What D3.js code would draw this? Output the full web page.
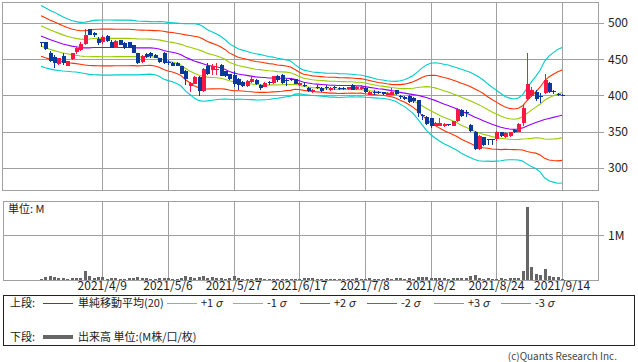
<!DOCTYPE html>
<html><head><meta charset="utf-8">
<script src="https://cdn.jsdelivr.net/npm/d3@7"></script>
<style>body{margin:0;background:#fff}svg{display:block}</style>
</head><body>
<svg id="c" width="638" height="362"></svg>
<script>
const dates = [
"2021/3/22","2021/3/23","2021/3/24","2021/3/25","2021/3/26","2021/3/29","2021/3/30","2021/3/31",
"2021/4/1","2021/4/2","2021/4/5","2021/4/6","2021/4/7","2021/4/8","2021/4/9","2021/4/12","2021/4/13","2021/4/14","2021/4/15","2021/4/16","2021/4/19","2021/4/20","2021/4/21","2021/4/22","2021/4/23","2021/4/26","2021/4/27","2021/4/28","2021/4/30",
"2021/5/6","2021/5/7","2021/5/10","2021/5/11","2021/5/12","2021/5/13","2021/5/14","2021/5/17","2021/5/18","2021/5/19","2021/5/20","2021/5/21","2021/5/24","2021/5/25","2021/5/26","2021/5/27","2021/5/28","2021/5/31",
"2021/6/1","2021/6/2","2021/6/3","2021/6/4","2021/6/7","2021/6/8","2021/6/9","2021/6/10","2021/6/11","2021/6/14","2021/6/15","2021/6/16","2021/6/17","2021/6/18","2021/6/21","2021/6/22","2021/6/23","2021/6/24","2021/6/25","2021/6/28","2021/6/29","2021/6/30",
"2021/7/1","2021/7/2","2021/7/5","2021/7/6","2021/7/7","2021/7/8","2021/7/9","2021/7/12","2021/7/13","2021/7/14","2021/7/15","2021/7/16","2021/7/19","2021/7/20","2021/7/21","2021/7/26","2021/7/27","2021/7/28","2021/7/29","2021/7/30",
"2021/8/2","2021/8/3","2021/8/4","2021/8/5","2021/8/6","2021/8/10","2021/8/11","2021/8/12","2021/8/13","2021/8/16","2021/8/17","2021/8/18","2021/8/19","2021/8/20","2021/8/23","2021/8/24","2021/8/25","2021/8/26","2021/8/27","2021/8/30","2021/8/31",
"2021/9/1","2021/9/2","2021/9/3","2021/9/6","2021/9/7","2021/9/8","2021/9/9","2021/9/10","2021/9/13","2021/9/14"];

const open = [473,473,459,453,443,454,441,450,460,462,471,491,486,478,473,482,474,466,476,472,473,469,458,446,457,459,456,451,459,446,
445,445,440,434,413,416,425,406,440,435,436,442,433,429,428,423,419,413,418,421,414,412,419,417,426,428,421,423,422,414,
414,410,404,411,410.5,412,407,412,410.5,410.5,409,414,409,409,410.5,400.5,405,404.5,404,400.5,400.5,407,399.5,398,399,396,393,373,370,368,
358,358,358,360,358,364,380,377,359,350,326,342,339,339,340,349.5,342,344,352,350,362,395,399,405,399,403,417,406,402,401];
const high = [474,474,461,455,452,458,448,459,467,473,491,492,488,480,483,484,476,476,477,473,474,470,459,455,459,460,457,452,460,449,
446,446,441,435,418,426,426,438,444,443,445,443,434,430,433,424,420,421,426,422,415,418,420,427,428,429,423,424,423,419,
419,411,409,414,411,414,411,413,412,411,412,415,413,414,411,406,407,406,405,404.5,409.5,408,400.5,399,400,397,394,374,372,369,
363,369,362,361,365,382,381,380,361,351,345,343,340,340,351,350,349,350,353,362,386,458,412,408,403,429,418,407,403,402];
const low = [467,463,446,438,442,442,440,449,457,461,470,483,480,469,471,474,465,465,469,464,465,458,443,445,451,452,451,445,443,442,
440,440,429,414,404,415,399,405,428,428,428,426,425,421,412,408,412,412,417,414,408,411,414,416,419,416,413,420,415,413,
412,405,403,409,405,407,406,408,408,408,408,407,408,408,403,400,400,402,401,400,400,401,395.5,393.5,390,390,370,366,359,355,
357,357,356,357,357,363,370,370,350,325,324,330,331,331,337,343,341,343,348,349,357,393,397,392,390,402,403,402,399,399.5];
const close = [472.5,464,448,444,451,445,447,458,465,471,483,484,483,472,481,475,466,475,470,465,466,459,444,454,453,454,452,446,444,444,
441,441,430,422,417,425,406,437,429,440,437,427,426,422,416,414,413,420,422,416,410,417,417.5,426,421,417,420,421,416,417.5,
413,406,408,410.5,406,410,410.5,409.5,409,409,411,408,412,412,404,405,403,403.5,402,403.5,405,402.5,397,395,391,392,376,371,360.5,357,
362,362,361,358.5,364,381,371.5,376,351,326,344,331,338,338,350,344,348,349.5,349,361,383,416,407,395,398,421,404,404.5,401,400];
const volume = [0.03,0.07,0.10,0.06,0.045,0.04,0.02,0.035,0.05,0.055,0.19,0.08,0.05,0.06,0.075,0.025,0.035,0.035,0.02,0.02,
0.035,0.035,0.075,0.05,0.04,0.02,0.02,0.035,0.035,0.035,0.02,0.025,0.045,0.085,0.06,0.05,0.06,0.10,0.05,0.06,
0.045,0.045,0.025,0.045,0.08,0.035,0.02,0.02,0.02,0.035,0.035,0.02,0.025,0.02,0.02,0.02,0.02,0.02,0.02,0.02,
0.035,0.035,0.035,0.02,0.02,0.02,0.02,0.02,0.02,0.02,0.02,0.02,0.035,0.02,0.02,0.035,0.02,0.02,0.02,0.035,
0.02,0.035,0.035,0.02,0.035,0.02,0.075,0.06,0.06,0.045,0.045,0.045,0.045,0.02,0.05,0.05,0.035,0.045,0.10,0.12,
0.05,0.02,0.035,0.02,0.02,0.035,0.02,0.035,0.035,0.035,0.21,1.63,0.29,0.14,0.11,0.25,0.08,0.06,0.06,0.03];
const sma = [482,479.5,477,475,473,471,469.5,468,467,466,465.5,465.5,466,466,466,466,466,466,466,466,
466,466,465.5,465.5,465.5,465.5,465,464,462,460.5,459.5,458,456,452.5,450,447.5,445.5,443.5,441.5,440.5,
439.5,438,436,433,431,429.5,428.5,427.5,426.5,425.5,425,424.5,424,424,423.5,423.5,423.5,423,422,420,
418,417,416,415.5,415,414.5,414,414,413.5,413.5,413.5,413.5,413,413,412,411,410,409,408.5,407.5,
406.5,405.5,404,403,402,401,400,398.5,397,395,393,390.5,388,386,383.5,381,378,375.5,373,370,
367.5,365,362.5,360,358,356,354.5,353.5,353,353.5,355,357.5,360,362.5,364.5,366.5,368,369.5,371,372.5];
const sigma = [14,13.8,13.5,13.3,12.9,12.5,12.1,11.8,11.6,11.6,11.8,12.2,12.5,12.6,12.7,12.7,12.7,12.6,12.6,12.6,
12.6,12.5,12.4,12.3,12.2,12.1,12.2,12.6,13.2,13.4,13.6,13.9,14.4,15.5,16.3,17.1,17.5,17.2,16.4,15.8,
15.2,14.5,13.7,12.8,12.3,11.6,11.3,11.1,10.8,10.6,10.5,10.2,9.9,9.6,9.2,8.9,8.5,8.1,6.8,6.0,
5.6,5.5,5.4,5.4,5.4,5.4,5.5,5.5,5.5,5.4,5.3,5.2,5.1,5.0,4.9,4.7,4.5,4.3,4.2,4.2,
4.3,4.6,5.4,6.2,7.4,8.8,10.8,13.0,15.0,16.4,17.3,17.9,18.3,18.6,18.8,19.0,19.3,19.5,19.6,19.6,
19.3,18.7,17.8,17.1,16.3,15.5,14.6,14.2,14.0,14.3,15.3,17.5,19.5,21.2,23.5,26.8,28.7,29.8,30.8,31.2];
const priceTicks = [300,350,400,450,500];
const volumeTicks = [1];
const volumeTickLabels = ["1M"];
const dateTicks = ["2021/4/9","2021/5/6","2021/5/27","2021/6/17","2021/7/8","2021/8/2","2021/8/24","2021/9/14"];
const bands = [
  {k:3, color:"#00cccc"},{k:-3, color:"#00cccc"},
  {k:2, color:"#ff3300"},{k:-2, color:"#ff3300"},
  {k:1, color:"#99cc00"},{k:-1, color:"#99cc00"},
  {k:0, color:"#9900ff"}];
const legendItems = [
  {label:"単純移動平均(20)", sig:"", color:"#9900ff"},
  {label:"+1", sig:"σ", color:"#99cc00"},{label:"-1", sig:"σ", color:"#99cc00"},
  {label:"+2", sig:"σ", color:"#ff3300"},{label:"-2", sig:"σ", color:"#ff3300"},
  {label:"+3", sig:"σ", color:"#00cccc"},{label:"-3", sig:"σ", color:"#00cccc"}];

const FONT = "'Noto Sans CJK JP','Noto Sans',sans-serif";
const GRID = "#a0a0a0";
const UP = "#ff1744", DOWN = "#0a3a99";
const svg = d3.select("#c");
const L = 2, R = 598, T = 2, B = 190;
const VT = 201, VB = 280, VL = 3;
const n = dates.length;
const x = d3.scaleLinear().domain([-8.9, 127.2]).range([L, R]);
const y = d3.scaleLinear().domain([269.2, 528.9]).range([B, T]);
const yv = d3.scaleLinear().domain([0, 1.756]).range([VB, VT]);
const tickIdx = dateTicks.map(d => dates.indexOf(d));

// price grid + axis
const gP = svg.append("g").attr("shape-rendering","crispEdges");
gP.selectAll("line.h").data(priceTicks).join("line")
  .attr("x1", L).attr("x2", 604).attr("y1", d=>Math.round(y(d))+0.5).attr("y2", d=>Math.round(y(d))+0.5)
  .attr("stroke", GRID);
gP.selectAll("line.v").data(tickIdx).join("line")
  .attr("x1", d=>Math.round(x(d))+0.5).attr("x2", d=>Math.round(x(d))+0.5).attr("y1", T).attr("y2", B)
  .attr("stroke", GRID);
svg.append("g").selectAll("text").data(priceTicks).join("text")
  .attr("x", 608).attr("y", d=>y(d)+4.5).text(d=>d)
  .attr("font-family", FONT).attr("font-size", 12).attr("fill","#222");

// bands
const line = k => d3.line().x((d,i)=>x(i)).y((d,i)=>y(sma[i] + k*sigma[i]));
svg.append("g").selectAll("path").data(bands).join("path")
  .attr("d", b => line(b.k)(sma)).attr("fill","none").attr("stroke", b=>b.color).attr("stroke-width",1.1);

// candles
const gC = svg.append("g").attr("shape-rendering","crispEdges");
const cand = d3.range(n);
gC.selectAll("rect.w").data(cand).join("rect")
  .attr("x", i=>Math.round(x(i))).attr("width",1)
  .attr("y", i=>Math.round(y(high[i]))).attr("height", i=>Math.max(1, Math.round(y(low[i]))-Math.round(y(high[i]))))
  .attr("fill", i=> close[i]>open[i]?UP:DOWN);
gC.selectAll("rect.b").data(cand).join("rect")
  .attr("x", i=>Math.round(x(i))-1.5).attr("width",4)
  .attr("y", i=>Math.round(y(Math.max(open[i],close[i]))))
  .attr("height", i=>Math.max(1, Math.round(y(Math.min(open[i],close[i]))) - Math.round(y(Math.max(open[i],close[i])))))
  .attr("fill", i=> close[i]>open[i]?UP:DOWN);

// top frame
svg.append("rect").attr("x",L+0.5).attr("y",T+0.5).attr("width",R-L).attr("height",B-T)
  .attr("fill","none").attr("stroke",GRID).attr("shape-rendering","crispEdges");

// volume panel
const gV = svg.append("g").attr("shape-rendering","crispEdges");
gV.selectAll("line.h").data(volumeTicks).join("line")
  .attr("x1", VL).attr("x2", 604).attr("y1", d=>Math.round(yv(d))+0.5).attr("y2", d=>Math.round(yv(d))+0.5).attr("stroke",GRID);
gV.selectAll("line.v").data(tickIdx).join("line")
  .attr("x1", d=>Math.round(x(d))+0.5).attr("x2", d=>Math.round(x(d))+0.5).attr("y1", VT).attr("y2", VB).attr("stroke",GRID);
gV.selectAll("rect.vol").data(cand).join("rect")
  .attr("x", i=>Math.round(x(i))-1).attr("width",3)
  .attr("y", i=>Math.round(yv(volume[i]))).attr("height", i=>VB-Math.round(yv(volume[i])))
  .attr("fill","#666");
gV.append("rect").attr("x",VL+0.5).attr("y",VT+0.5).attr("width",R-VL).attr("height",VB-VT)
  .attr("fill","none").attr("stroke",GRID);
svg.append("g").selectAll("text").data(volumeTicks).join("text")
  .attr("x", 608).attr("y", d=>yv(d)+4.5).text((d,i)=>volumeTickLabels[i])
  .attr("font-family", FONT).attr("font-size", 12).attr("fill","#222");
svg.append("text").attr("x",8).attr("y",213).text("単位: M")
  .attr("font-family", FONT).attr("font-size", 11).attr("fill","#222");

// date labels
svg.append("g").selectAll("text").data(tickIdx).join("text")
  .attr("x", d=>x(d)).attr("y", 290).attr("text-anchor","middle").text((d,i)=>dateTicks[i])
  .attr("font-family", FONT).attr("font-size", 12).attr("fill","#222");

// legend
svg.append("rect").attr("x",3.5).attr("y",295.5).attr("width",631).attr("height",50)
  .attr("fill","none").attr("stroke","#222").attr("shape-rendering","crispEdges");
const lg = svg.append("g").attr("font-family",FONT).attr("font-size",11).attr("fill","#222");
lg.append("text").attr("x",10).attr("y",307).text("上段:");
lg.append("text").attr("x",10).attr("y",341).text("下段:");
const lx = [43, 167, 233, 300, 367, 434, 501];
const tx = [78, 201, 267, 334, 401, 468, 535];
legendItems.forEach((d,i)=>{
  lg.append("line").attr("x1",lx[i]).attr("x2",lx[i]+30).attr("y1",303.5).attr("y2",303.5)
    .attr("stroke",d.color).attr("stroke-width",1);
  const t = lg.append("text").attr("x",tx[i]).attr("y",307).text(d.label);
  if (d.sig) t.append("tspan").attr("dx",2).attr("font-style","italic").text(d.sig);
});
lg.append("line").attr("x1",43).attr("x2",73).attr("y1",337).attr("y2",337).attr("stroke","#666").attr("stroke-width",4);
lg.append("text").attr("x",78).attr("y",341).text("出来高 単位:(M株/口/枚)");
svg.append("text").attr("x",617).attr("y",360).attr("text-anchor","end").text("(c)Quants Research Inc.")
  .attr("font-family",FONT).attr("font-size",10).attr("fill","#444");
</script>
</body></html>
